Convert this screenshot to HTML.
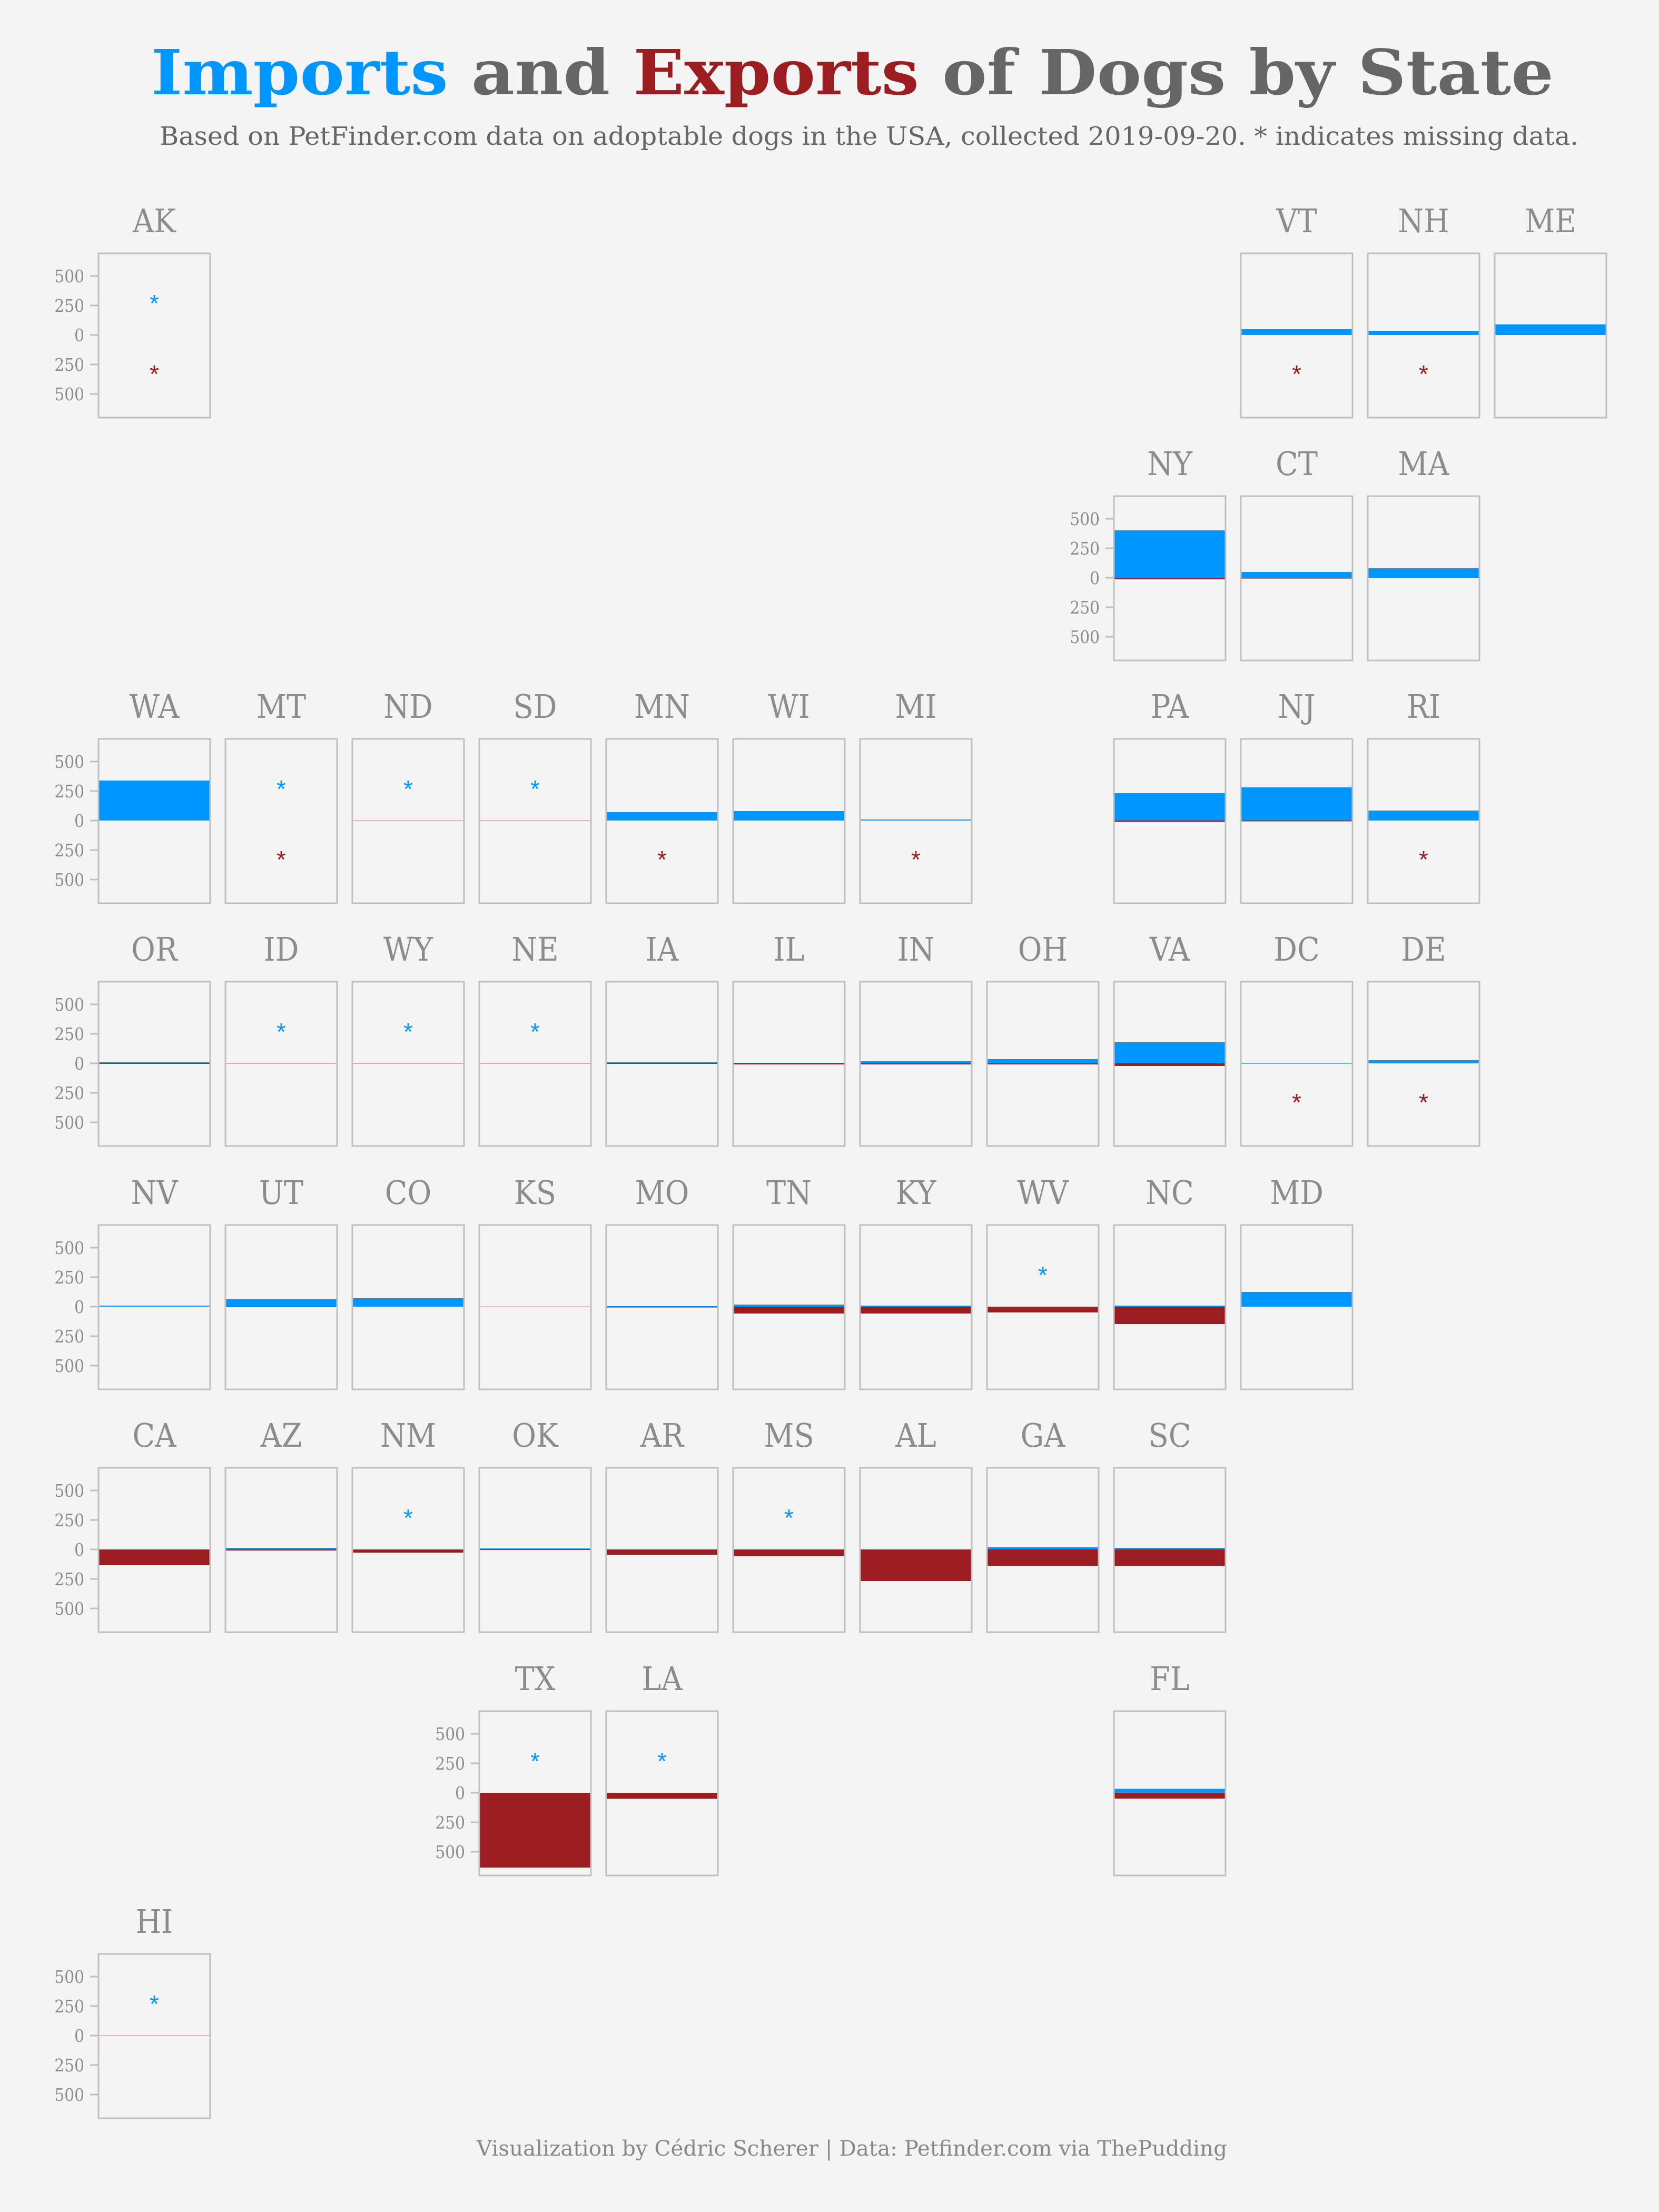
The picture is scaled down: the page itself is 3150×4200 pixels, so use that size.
<!DOCTYPE html>
<html><head><meta charset="utf-8"><style>
html,body{margin:0;padding:0;background:#f5f4f5;}
svg{display:block;}
.lab{font-family:"DejaVu Serif Condensed","DejaVu Serif","Liberation Serif",serif;font-size:62px;fill:#8c8c8c;text-anchor:middle;}
.tk{font-family:"DejaVu Serif Condensed","DejaVu Serif","Liberation Serif",serif;font-size:33px;fill:#8c8c8c;text-anchor:end;}
.box{fill:#f5f4f5;stroke:#c0c0c0;stroke-width:3;}
.b{fill:#0096ff;}
.r{fill:#9b1d20;}
.z{fill:#d9a0a0;}
.sb{font-family:"Liberation Sans",sans-serif;font-size:46px;fill:#0096ff;text-anchor:middle;}
.sr{font-family:"Liberation Sans",sans-serif;font-size:46px;fill:#9b1d20;text-anchor:middle;}
.ax line{stroke:#c0c0c0;stroke-width:3;}
</style></head><body>
<svg width="3150" height="4200" viewBox="0 0 3150 4200" xmlns="http://www.w3.org/2000/svg">
<rect width="3150" height="4200" fill="#f5f4f5"/>
<defs>
<g id="ax" class="ax">
<line x1="-16" y1="43" x2="0" y2="43"/><line x1="-16" y1="99" x2="0" y2="99"/><line x1="-16" y1="155" x2="0" y2="155"/><line x1="-16" y1="211" x2="0" y2="211"/><line x1="-16" y1="267" x2="0" y2="267"/>
</g>
</defs>
<text x="287" y="179" textLength="2663" lengthAdjust="spacingAndGlyphs" style="font-family:'DejaVu Serif','Liberation Serif',serif;font-weight:bold;font-size:118px;fill:#666"><tspan fill="#0096ff">Imports</tspan> and <tspan fill="#9b1d20">Exports</tspan> of Dogs by State</text>
<text x="303" y="275" textLength="2694" lengthAdjust="spacingAndGlyphs" style="font-family:'DejaVu Serif Condensed','DejaVu Serif','Liberation Serif',serif;font-size:48px;fill:#666">Based on PetFinder.com data on adoptable dogs in the USA, collected 2019-09-20. * indicates missing data.</text>
<text x="905" y="4093" textLength="1425" lengthAdjust="spacingAndGlyphs" style="font-family:'DejaVu Serif Condensed','DejaVu Serif','Liberation Serif',serif;font-size:40px;fill:#888">Visualization by Cédric Scherer  |  Data: Petfinder.com via ThePudding</text>

<!-- Row 0 -->
<g transform="translate(187,481)"><text class="lab" x="106" y="-40">AK</text><rect class="box" width="212" height="312"/><use href="#ax"/><text class="tk" x="-27" y="55">500</text><text class="tk" x="-27" y="111">250</text><text class="tk" x="-27" y="167">0</text><text class="tk" x="-27" y="223">250</text><text class="tk" x="-27" y="279">500</text><text class="sb" x="106" y="111">*</text><text class="sr" x="106" y="245">*</text></g>
<g transform="translate(2356,481)"><text class="lab" x="106" y="-40">VT</text><rect class="box" width="212" height="312"/><rect class="b" x="1.5" y="144" width="209" height="11"/><text class="sr" x="106" y="245">*</text></g>
<g transform="translate(2597,481)"><text class="lab" x="106" y="-40">NH</text><rect class="box" width="212" height="312"/><rect class="b" x="1.5" y="147" width="209" height="8"/><text class="sr" x="106" y="245">*</text></g>
<g transform="translate(2838,481)"><text class="lab" x="106" y="-40">ME</text><rect class="box" width="212" height="312"/><rect class="b" x="1.5" y="135" width="209" height="20"/></g>

<!-- Row 1 -->
<g transform="translate(2115,942)"><text class="lab" x="106" y="-40">NY</text><rect class="box" width="212" height="312"/><use href="#ax"/><text class="tk" x="-27" y="55">500</text><text class="tk" x="-27" y="111">250</text><text class="tk" x="-27" y="167">0</text><text class="tk" x="-27" y="223">250</text><text class="tk" x="-27" y="279">500</text><rect class="b" x="1.5" y="65" width="209" height="90"/><rect class="r" x="1.5" y="155" width="209" height="3"/></g>
<g transform="translate(2356,942)"><text class="lab" x="106" y="-40">CT</text><rect class="box" width="212" height="312"/><rect class="b" x="1.5" y="144" width="209" height="11"/><rect class="r" x="1.5" y="155" width="209" height="1.5"/></g>
<g transform="translate(2597,942)"><text class="lab" x="106" y="-40">MA</text><rect class="box" width="212" height="312"/><rect class="b" x="1.5" y="137" width="209" height="18"/></g>

<!-- Row 2 -->
<g transform="translate(187,1403)"><text class="lab" x="106" y="-40">WA</text><rect class="box" width="212" height="312"/><use href="#ax"/><text class="tk" x="-27" y="55">500</text><text class="tk" x="-27" y="111">250</text><text class="tk" x="-27" y="167">0</text><text class="tk" x="-27" y="223">250</text><text class="tk" x="-27" y="279">500</text><rect class="b" x="1.5" y="79" width="209" height="76"/></g>
<g transform="translate(428,1403)"><text class="lab" x="106" y="-40">MT</text><rect class="box" width="212" height="312"/><text class="sb" x="106" y="111">*</text><text class="sr" x="106" y="245">*</text></g>
<g transform="translate(669,1403)"><text class="lab" x="106" y="-40">ND</text><rect class="box" width="212" height="312"/><rect class="z" x="1.5" y="154.5" width="209" height="1.5"/><text class="sb" x="106" y="111">*</text></g>
<g transform="translate(910,1403)"><text class="lab" x="106" y="-40">SD</text><rect class="box" width="212" height="312"/><rect class="z" x="1.5" y="154.5" width="209" height="1.5"/><text class="sb" x="106" y="111">*</text></g>
<g transform="translate(1151,1403)"><text class="lab" x="106" y="-40">MN</text><rect class="box" width="212" height="312"/><rect class="b" x="1.5" y="139" width="209" height="16"/><text class="sr" x="106" y="245">*</text></g>
<g transform="translate(1392,1403)"><text class="lab" x="106" y="-40">WI</text><rect class="box" width="212" height="312"/><rect class="b" x="1.5" y="137" width="209" height="18"/></g>
<g transform="translate(1633,1403)"><text class="lab" x="106" y="-40">MI</text><rect class="box" width="212" height="312"/><rect class="b" x="1.5" y="153" width="209" height="2"/><text class="sr" x="106" y="245">*</text></g>
<g transform="translate(2115,1403)"><text class="lab" x="106" y="-40">PA</text><rect class="box" width="212" height="312"/><rect class="b" x="1.5" y="103" width="209" height="52"/><rect class="r" x="1.5" y="155" width="209" height="2.5"/></g>
<g transform="translate(2356,1403)"><text class="lab" x="106" y="-40">NJ</text><rect class="box" width="212" height="312"/><rect class="b" x="1.5" y="92" width="209" height="63"/><rect class="r" x="1.5" y="155" width="209" height="1.5"/></g>
<g transform="translate(2597,1403)"><text class="lab" x="106" y="-40">RI</text><rect class="box" width="212" height="312"/><rect class="b" x="1.5" y="136" width="209" height="19"/><text class="sr" x="106" y="245">*</text></g>

<!-- Row 3 -->
<g transform="translate(187,1864)"><text class="lab" x="106" y="-40">OR</text><rect class="box" width="212" height="312"/><use href="#ax"/><text class="tk" x="-27" y="55">500</text><text class="tk" x="-27" y="111">250</text><text class="tk" x="-27" y="167">0</text><text class="tk" x="-27" y="223">250</text><text class="tk" x="-27" y="279">500</text><rect class="b" x="1.5" y="153" width="209" height="2"/><rect class="r" x="1.5" y="155" width="209" height="1"/></g>
<g transform="translate(428,1864)"><text class="lab" x="106" y="-40">ID</text><rect class="box" width="212" height="312"/><rect class="z" x="1.5" y="154.5" width="209" height="1.5"/><text class="sb" x="106" y="111">*</text></g>
<g transform="translate(669,1864)"><text class="lab" x="106" y="-40">WY</text><rect class="box" width="212" height="312"/><rect class="z" x="1.5" y="154.5" width="209" height="1.5"/><text class="sb" x="106" y="111">*</text></g>
<g transform="translate(910,1864)"><text class="lab" x="106" y="-40">NE</text><rect class="box" width="212" height="312"/><rect class="z" x="1.5" y="154.5" width="209" height="1.5"/><text class="sb" x="106" y="111">*</text></g>
<g transform="translate(1151,1864)"><text class="lab" x="106" y="-40">IA</text><rect class="box" width="212" height="312"/><rect class="b" x="1.5" y="153" width="209" height="2"/><rect class="r" x="1.5" y="155" width="209" height="1"/></g>
<g transform="translate(1392,1864)"><text class="lab" x="106" y="-40">IL</text><rect class="box" width="212" height="312"/><rect class="b" x="1.5" y="154" width="209" height="1"/><rect class="r" x="1.5" y="155" width="209" height="2"/></g>
<g transform="translate(1633,1864)"><text class="lab" x="106" y="-40">IN</text><rect class="box" width="212" height="312"/><rect class="b" x="1.5" y="151" width="209" height="4"/><rect class="r" x="1.5" y="155" width="209" height="2"/></g>
<g transform="translate(1874,1864)"><text class="lab" x="106" y="-40">OH</text><rect class="box" width="212" height="312"/><rect class="b" x="1.5" y="147" width="209" height="8"/><rect class="r" x="1.5" y="155" width="209" height="2"/></g>
<g transform="translate(2115,1864)"><text class="lab" x="106" y="-40">VA</text><rect class="box" width="212" height="312"/><rect class="b" x="1.5" y="115" width="209" height="40"/><rect class="r" x="1.5" y="155" width="209" height="5"/></g>
<g transform="translate(2356,1864)"><text class="lab" x="106" y="-40">DC</text><rect class="box" width="212" height="312"/><rect class="b" x="1.5" y="154" width="209" height="1.5"/><text class="sr" x="106" y="245">*</text></g>
<g transform="translate(2597,1864)"><text class="lab" x="106" y="-40">DE</text><rect class="box" width="212" height="312"/><rect class="b" x="1.5" y="149" width="209" height="6"/><text class="sr" x="106" y="245">*</text></g>

<!-- Row 4 -->
<g transform="translate(187,2326)"><text class="lab" x="106" y="-40">NV</text><rect class="box" width="212" height="312"/><use href="#ax"/><text class="tk" x="-27" y="55">500</text><text class="tk" x="-27" y="111">250</text><text class="tk" x="-27" y="167">0</text><text class="tk" x="-27" y="223">250</text><text class="tk" x="-27" y="279">500</text><rect class="b" x="1.5" y="153" width="209" height="2"/></g>
<g transform="translate(428,2326)"><text class="lab" x="106" y="-40">UT</text><rect class="box" width="212" height="312"/><rect class="b" x="1.5" y="141" width="209" height="14"/><rect class="r" x="1.5" y="155" width="209" height="1"/></g>
<g transform="translate(669,2326)"><text class="lab" x="106" y="-40">CO</text><rect class="box" width="212" height="312"/><rect class="b" x="1.5" y="139" width="209" height="16"/></g>
<g transform="translate(910,2326)"><text class="lab" x="106" y="-40">KS</text><rect class="box" width="212" height="312"/><rect class="z" x="1.5" y="154.5" width="209" height="1.5"/></g>
<g transform="translate(1151,2326)"><text class="lab" x="106" y="-40">MO</text><rect class="box" width="212" height="312"/><rect class="b" x="1.5" y="154" width="209" height="1"/><rect class="r" x="1.5" y="155" width="209" height="1.5"/></g>
<g transform="translate(1392,2326)"><text class="lab" x="106" y="-40">TN</text><rect class="box" width="212" height="312"/><rect class="b" x="1.5" y="151" width="209" height="4"/><rect class="r" x="1.5" y="155" width="209" height="13"/></g>
<g transform="translate(1633,2326)"><text class="lab" x="106" y="-40">KY</text><rect class="box" width="212" height="312"/><rect class="b" x="1.5" y="153" width="209" height="2"/><rect class="r" x="1.5" y="155" width="209" height="13"/></g>
<g transform="translate(1874,2326)"><text class="lab" x="106" y="-40">WV</text><rect class="box" width="212" height="312"/><rect class="r" x="1.5" y="155" width="209" height="11"/><text class="sb" x="106" y="111">*</text></g>
<g transform="translate(2115,2326)"><text class="lab" x="106" y="-40">NC</text><rect class="box" width="212" height="312"/><rect class="b" x="1.5" y="153" width="209" height="2"/><rect class="r" x="1.5" y="155" width="209" height="33"/></g>
<g transform="translate(2356,2326)"><text class="lab" x="106" y="-40">MD</text><rect class="box" width="212" height="312"/><rect class="b" x="1.5" y="127" width="209" height="28"/></g>

<!-- Row 5 -->
<g transform="translate(187,2787)"><text class="lab" x="106" y="-40">CA</text><rect class="box" width="212" height="312"/><use href="#ax"/><text class="tk" x="-27" y="55">500</text><text class="tk" x="-27" y="111">250</text><text class="tk" x="-27" y="167">0</text><text class="tk" x="-27" y="223">250</text><text class="tk" x="-27" y="279">500</text><rect class="r" x="1.5" y="155" width="209" height="30"/></g>
<g transform="translate(428,2787)"><text class="lab" x="106" y="-40">AZ</text><rect class="box" width="212" height="312"/><rect class="b" x="1.5" y="152" width="209" height="3"/><rect class="r" x="1.5" y="155" width="209" height="2"/></g>
<g transform="translate(669,2787)"><text class="lab" x="106" y="-40">NM</text><rect class="box" width="212" height="312"/><rect class="r" x="1.5" y="155" width="209" height="6"/><text class="sb" x="106" y="111">*</text></g>
<g transform="translate(910,2787)"><text class="lab" x="106" y="-40">OK</text><rect class="box" width="212" height="312"/><rect class="b" x="1.5" y="153" width="209" height="2"/><rect class="r" x="1.5" y="155" width="209" height="1"/></g>
<g transform="translate(1151,2787)"><text class="lab" x="106" y="-40">AR</text><rect class="box" width="212" height="312"/><rect class="r" x="1.5" y="155" width="209" height="10"/></g>
<g transform="translate(1392,2787)"><text class="lab" x="106" y="-40">MS</text><rect class="box" width="212" height="312"/><rect class="r" x="1.5" y="155" width="209" height="12.5"/><text class="sb" x="106" y="111">*</text></g>
<g transform="translate(1633,2787)"><text class="lab" x="106" y="-40">AL</text><rect class="box" width="212" height="312"/><rect class="r" x="1.5" y="155" width="209" height="60"/></g>
<g transform="translate(1874,2787)"><text class="lab" x="106" y="-40">GA</text><rect class="box" width="212" height="312"/><rect class="b" x="1.5" y="150.5" width="209" height="4.5"/><rect class="r" x="1.5" y="155" width="209" height="31"/></g>
<g transform="translate(2115,2787)"><text class="lab" x="106" y="-40">SC</text><rect class="box" width="212" height="312"/><rect class="b" x="1.5" y="152" width="209" height="3"/><rect class="r" x="1.5" y="155" width="209" height="31"/></g>

<!-- Row 6 -->
<g transform="translate(910,3249)"><text class="lab" x="106" y="-40">TX</text><rect class="box" width="212" height="312"/><use href="#ax"/><text class="tk" x="-27" y="55">500</text><text class="tk" x="-27" y="111">250</text><text class="tk" x="-27" y="167">0</text><text class="tk" x="-27" y="223">250</text><text class="tk" x="-27" y="279">500</text><rect class="r" x="1.5" y="155" width="209" height="142"/><text class="sb" x="106" y="111">*</text></g>
<g transform="translate(1151,3249)"><text class="lab" x="106" y="-40">LA</text><rect class="box" width="212" height="312"/><rect class="r" x="1.5" y="155" width="209" height="11.5"/><text class="sb" x="106" y="111">*</text></g>
<g transform="translate(2115,3249)"><text class="lab" x="106" y="-40">FL</text><rect class="box" width="212" height="312"/><rect class="b" x="1.5" y="147.5" width="209" height="7.5"/><rect class="r" x="1.5" y="155" width="209" height="11"/></g>

<!-- Row 7 -->
<g transform="translate(187,3710)"><text class="lab" x="106" y="-40">HI</text><rect class="box" width="212" height="312"/><use href="#ax"/><text class="tk" x="-27" y="55">500</text><text class="tk" x="-27" y="111">250</text><text class="tk" x="-27" y="167">0</text><text class="tk" x="-27" y="223">250</text><text class="tk" x="-27" y="279">500</text><rect class="z" x="1.5" y="154.5" width="209" height="1.5"/><text class="sb" x="106" y="111">*</text></g>
</svg>
</body></html>
